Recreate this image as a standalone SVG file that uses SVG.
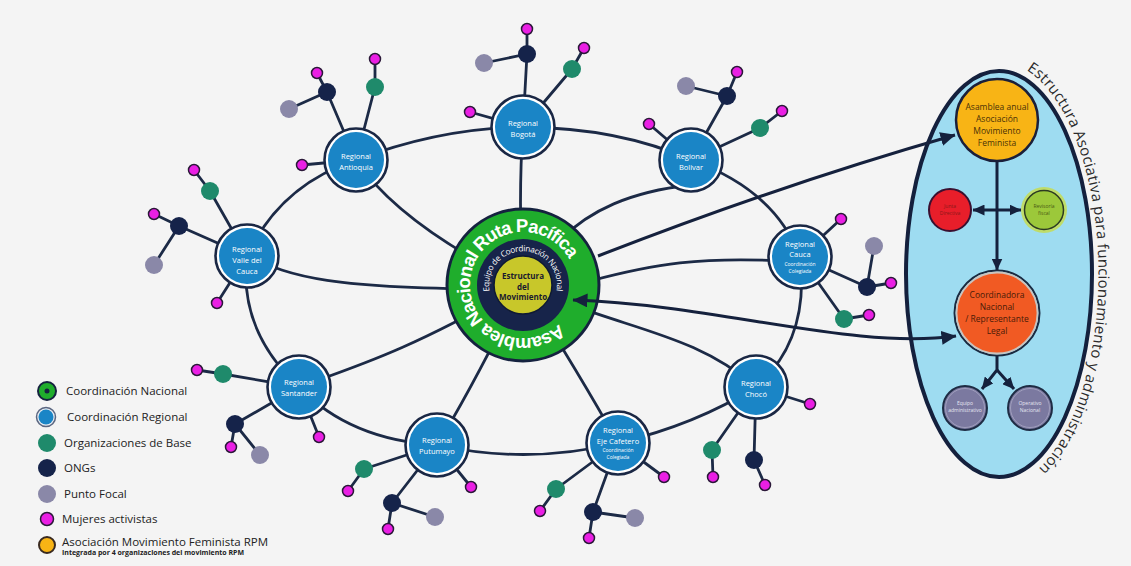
<svg xmlns="http://www.w3.org/2000/svg" xmlns:xlink="http://www.w3.org/1999/xlink" width="1131" height="566" viewBox="0 0 1131 566">
<defs>
<style>
.ln{fill:none;stroke:#1c2a46;stroke-width:2.8;stroke-linecap:round}
.sl{stroke:#1c2a46;stroke-width:2.8;stroke-linecap:round}
.ar{fill:none;stroke:#15213d;stroke-width:3}
.ro{fill:#ffffff;stroke:#1a2744;stroke-width:2.6}
.ri{fill:#1a85c6}
.org{fill:#1f8a6b}
.ong{fill:#15234a}
.pf{fill:#8a88a8}
.mag{fill:#ea1fe4;stroke:#2a1838;stroke-width:1.5}
.rt{font-family:"Open Sans","DejaVu Sans",sans-serif;font-size:7.5px;fill:#ffffff;text-anchor:middle}
.rs{font-size:5px}
.lg{font-family:"Open Sans","DejaVu Sans",sans-serif;font-size:11.5px;fill:#222222}
.nt{font-family:"Open Sans","DejaVu Sans",sans-serif;font-size:8.5px;text-anchor:middle}
.tt{font-family:"Open Sans","DejaVu Sans",sans-serif;font-size:5px;text-anchor:middle}
</style>
<marker id="ah" viewBox="0 0 12 11" refX="11.5" refY="5.5" markerWidth="12" markerHeight="11" markerUnits="userSpaceOnUse" orient="auto-start-reverse"><path d="M0,0 L12,5.5 L0,11 z" fill="#15213d"/></marker>
<marker id="ahb" viewBox="0 0 15 14" refX="14.5" refY="7" markerWidth="15" markerHeight="14" markerUnits="userSpaceOnUse" orient="auto-start-reverse"><path d="M0,0 L15,7 L0,14 z" fill="#15213d"/></marker>
<path id="ringPath" d="M560.5,322.5 A53,53 0 1 1 570.2,260.9"/>
<path id="innerPath" d="M489.7,292.1 A34,34 0 1 1 556.3,292.1"/>
<path id="ellPath" d="M999,62 A99.5,212 0 0 1 999,486"/>
</defs>
<rect x="0" y="0" width="1131" height="566" fill="#f4f4f4"/>

<g id="estructura-asociativa">
<ellipse cx="999" cy="274" rx="93" ry="203" fill="#9edcf1" stroke="#14203d" stroke-width="4"/>
<text font-family="'Open Sans','DejaVu Sans',sans-serif" font-size="15" fill="#2b2b2b"><textPath xlink:href="#ellPath" href="#ellPath" startOffset="29" textLength="432" lengthAdjust="spacing">Estructura Asociativa para funcionamiento y administración</textPath></text>
</g>

<g id="connectors">
<path class="ln" d="M247,256 Q280,185 356,160"/>
<path class="ln" d="M356,160 Q440,128 523,127"/>
<path class="ln" d="M523,127 Q620,128 691,160"/>
<path class="ln" d="M691,160 Q775,190 800,257"/>
<path class="ln" d="M800,257 Q810,340 756,387"/>
<path class="ln" d="M756,387 Q695,425 618,443"/>
<path class="ln" d="M618,443 Q528,465 437,445"/>
<path class="ln" d="M437,445 Q350,440 299,387"/>
<path class="ln" d="M299,387 Q238,330 247,256"/>
<path class="ln" d="M523,127 Q518,200 523,285"/>
<path class="ln" d="M356,160 Q400,225 523,285"/>
<path class="ln" d="M247,256 C290,275 320,290 523,289"/>
<path class="ln" d="M299,387 C360,365 410,350 523,285"/>
<path class="ln" d="M437,445 Q470,392 523,285"/>
<path class="ln" d="M523,285 Q580,375 618,443"/>
<path class="ln" d="M523,285 C620,330 690,330 756,387"/>
<path class="ln" d="M590,281 C650,265 700,255 800,262"/>
<path class="ln" d="M560,240 C590,210 630,192 690,185"/>
<line class="sl" x1="356" y1="160" x2="327" y2="92"/><line class="sl" x1="327" y1="92" x2="289" y2="109"/><line class="sl" x1="327" y1="92" x2="317" y2="73"/>
<line class="sl" x1="356" y1="160" x2="375" y2="87"/><line class="sl" x1="375" y1="87" x2="375" y2="59"/>
<line class="sl" x1="356" y1="160" x2="302" y2="165"/>
<line class="sl" x1="523" y1="127" x2="527" y2="54"/><line class="sl" x1="527" y1="54" x2="527" y2="29"/><line class="sl" x1="527" y1="54" x2="484" y2="63"/>
<line class="sl" x1="523" y1="127" x2="572" y2="69"/><line class="sl" x1="572" y1="69" x2="584" y2="48"/>
<line class="sl" x1="523" y1="127" x2="470" y2="112"/>
<line class="sl" x1="691" y1="160" x2="727" y2="96"/><line class="sl" x1="727" y1="96" x2="686" y2="86"/><line class="sl" x1="727" y1="96" x2="737" y2="72"/>
<line class="sl" x1="691" y1="160" x2="760" y2="128"/><line class="sl" x1="760" y1="128" x2="782" y2="111"/>
<line class="sl" x1="691" y1="160" x2="649" y2="124"/>
<line class="sl" x1="247" y1="256" x2="179" y2="226"/><line class="sl" x1="179" y1="226" x2="154" y2="214"/><line class="sl" x1="179" y1="226" x2="154" y2="265"/>
<line class="sl" x1="247" y1="256" x2="210" y2="191"/><line class="sl" x1="210" y1="191" x2="194" y2="170"/>
<line class="sl" x1="247" y1="256" x2="217" y2="303"/>
<line class="sl" x1="800" y1="257" x2="841" y2="219"/>
<line class="sl" x1="800" y1="257" x2="867" y2="287"/><line class="sl" x1="867" y1="287" x2="874" y2="246"/><line class="sl" x1="867" y1="287" x2="891" y2="283"/>
<line class="sl" x1="800" y1="257" x2="844" y2="319"/><line class="sl" x1="844" y1="319" x2="869" y2="315"/>
<line class="sl" x1="756" y1="387" x2="810" y2="404"/>
<line class="sl" x1="756" y1="387" x2="712" y2="450"/><line class="sl" x1="712" y1="450" x2="713" y2="477"/>
<line class="sl" x1="756" y1="387" x2="754" y2="460"/><line class="sl" x1="754" y1="460" x2="765" y2="485"/>
<line class="sl" x1="299" y1="387" x2="223" y2="374"/><line class="sl" x1="223" y1="374" x2="197" y2="370"/>
<line class="sl" x1="299" y1="387" x2="235" y2="424"/><line class="sl" x1="235" y1="424" x2="231" y2="447"/><line class="sl" x1="235" y1="424" x2="260" y2="455"/>
<line class="sl" x1="299" y1="387" x2="319" y2="437"/>
<line class="sl" x1="437" y1="445" x2="364" y2="469"/><line class="sl" x1="364" y1="469" x2="348" y2="491"/>
<line class="sl" x1="437" y1="445" x2="392" y2="503"/><line class="sl" x1="392" y1="503" x2="388" y2="529"/><line class="sl" x1="392" y1="503" x2="435" y2="517"/>
<line class="sl" x1="437" y1="445" x2="471" y2="487"/>
<line class="sl" x1="618" y1="443" x2="556" y2="489"/><line class="sl" x1="556" y1="489" x2="540" y2="511"/>
<line class="sl" x1="618" y1="443" x2="593" y2="512"/><line class="sl" x1="593" y1="512" x2="589" y2="538"/><line class="sl" x1="593" y1="512" x2="635" y2="518"/>
<line class="sl" x1="618" y1="443" x2="664" y2="477"/>
<path class="ar" d="M997,162 L997,270" marker-end="url(#ah)"/>
<path class="ar" d="M973,210 L1021,210" marker-start="url(#ah)" marker-end="url(#ah)"/>
<path class="ar" d="M997,355 L997,370 L982,389" marker-end="url(#ah)"/>
<path class="ar" d="M997,370 L1014,389" marker-end="url(#ah)"/>
</g>

<g id="coordinacion-nacional">
<circle cx="523" cy="285" r="76" fill="#1fad2c" stroke="#15223f" stroke-width="3"/>
<circle cx="523" cy="285" r="46" fill="#17244a"/>
<circle cx="523" cy="285" r="29" fill="#c8c72a" stroke="#0f1a33" stroke-width="1.5"/>
<text font-family="'Liberation Sans',Arial,sans-serif" font-weight="700" font-size="18.5" fill="#ffffff"><textPath xlink:href="#ringPath" href="#ringPath" startOffset="2" textLength="262" lengthAdjust="spacing">Asamblea Nacional Ruta Pacífica</textPath></text>
<text font-family="'Open Sans','DejaVu Sans',sans-serif" font-size="8.3" fill="#ffffff"><textPath xlink:href="#innerPath" href="#innerPath" startOffset="1" textLength="118" lengthAdjust="spacing">Equipo de Coordinación Nacional</textPath></text>
<text font-family="'Open Sans','DejaVu Sans',sans-serif" font-size="8" font-weight="700" fill="#1a1a2e" text-anchor="middle"><tspan x="523" y="279">Estructura</tspan><tspan x="523" y="289.5">del</tspan><tspan x="523" y="300">Movimiento</tspan></text>
</g>

<g id="regional-antioquia"><circle cx="356" cy="160" r="31.5" class="ro"/><circle cx="356" cy="160" r="28" class="ri"/><text class="rt"><tspan x="356" y="159">Regional</tspan><tspan x="356" y="170">Antioquia</tspan></text></g>
<g id="regional-bogota"><circle cx="523" cy="127" r="31.5" class="ro"/><circle cx="523" cy="127" r="28" class="ri"/><text class="rt"><tspan x="523" y="126">Regional</tspan><tspan x="523" y="137">Bogotá</tspan></text></g>
<g id="regional-bolivar"><circle cx="691" cy="160" r="31.5" class="ro"/><circle cx="691" cy="160" r="28" class="ri"/><text class="rt"><tspan x="691" y="159">Regional</tspan><tspan x="691" y="170">Bolivar</tspan></text></g>
<g id="regional-valle"><circle cx="247" cy="256" r="31.5" class="ro"/><circle cx="247" cy="256" r="28" class="ri"/><text class="rt"><tspan x="247" y="252">Regional</tspan><tspan x="247" y="263">Valle del</tspan><tspan x="247" y="274">Cauca</tspan></text></g>
<g id="regional-cauca"><circle cx="800" cy="257" r="31.5" class="ro"/><circle cx="800" cy="257" r="28" class="ri"/><text class="rt"><tspan x="800" y="247">Regional</tspan><tspan x="800" y="257">Cauca</tspan><tspan class="rs" x="800" y="266">Coordinación</tspan><tspan class="rs" x="800" y="273">Colegiada</tspan></text></g>
<g id="regional-choco"><circle cx="756" cy="387" r="31.5" class="ro"/><circle cx="756" cy="387" r="28" class="ri"/><text class="rt"><tspan x="756" y="386">Regional</tspan><tspan x="756" y="397">Chocó</tspan></text></g>
<g id="regional-santander"><circle cx="299" cy="387" r="31.5" class="ro"/><circle cx="299" cy="387" r="28" class="ri"/><text class="rt"><tspan x="299" y="385">Regional</tspan><tspan x="299" y="396">Santander</tspan></text></g>
<g id="regional-putumayo"><circle cx="437" cy="445" r="31.5" class="ro"/><circle cx="437" cy="445" r="28" class="ri"/><text class="rt"><tspan x="437" y="443">Regional</tspan><tspan x="437" y="454">Putumayo</tspan></text></g>
<g id="regional-eje-cafetero"><circle cx="618" cy="443" r="31.5" class="ro"/><circle cx="618" cy="443" r="28" class="ri"/><text class="rt"><tspan x="618" y="433">Regional</tspan><tspan x="618" y="444">Eje Cafetero</tspan><tspan class="rs" x="618" y="452">Coordinación</tspan><tspan class="rs" x="618" y="459">Colegiada</tspan></text></g>

<g id="antioquia-ong"><circle cx="327" cy="92" r="9" class="ong"/></g>
<g id="antioquia-pf"><circle cx="289" cy="109" r="9" class="pf"/></g>
<g id="antioquia-m1"><circle cx="317" cy="73" r="5.5" class="mag"/></g>
<g id="antioquia-org"><circle cx="375" cy="87" r="9" class="org"/></g>
<g id="antioquia-m2"><circle cx="375" cy="59" r="5.5" class="mag"/></g>
<g id="antioquia-m3"><circle cx="302" cy="165" r="5.5" class="mag"/></g>
<g id="bogota-ong"><circle cx="527" cy="54" r="9" class="ong"/></g>
<g id="bogota-m1"><circle cx="527" cy="29" r="5.5" class="mag"/></g>
<g id="bogota-pf"><circle cx="484" cy="63" r="9" class="pf"/></g>
<g id="bogota-org"><circle cx="572" cy="69" r="9" class="org"/></g>
<g id="bogota-m2"><circle cx="584" cy="48" r="5.5" class="mag"/></g>
<g id="bogota-m3"><circle cx="470" cy="112" r="5.5" class="mag"/></g>
<g id="bolivar-ong"><circle cx="727" cy="96" r="9" class="ong"/></g>
<g id="bolivar-pf"><circle cx="686" cy="86" r="9" class="pf"/></g>
<g id="bolivar-m1"><circle cx="737" cy="72" r="5.5" class="mag"/></g>
<g id="bolivar-org"><circle cx="760" cy="128" r="9" class="org"/></g>
<g id="bolivar-m2"><circle cx="782" cy="111" r="5.5" class="mag"/></g>
<g id="bolivar-m3"><circle cx="649" cy="124" r="5.5" class="mag"/></g>
<g id="valle-ong"><circle cx="179" cy="226" r="9" class="ong"/></g>
<g id="valle-m1"><circle cx="154" cy="214" r="5.5" class="mag"/></g>
<g id="valle-pf"><circle cx="154" cy="265" r="9" class="pf"/></g>
<g id="valle-org"><circle cx="210" cy="191" r="9" class="org"/></g>
<g id="valle-m2"><circle cx="194" cy="170" r="5.5" class="mag"/></g>
<g id="valle-m3"><circle cx="217" cy="303" r="5.5" class="mag"/></g>
<g id="cauca-m1"><circle cx="841" cy="219" r="5.5" class="mag"/></g>
<g id="cauca-ong"><circle cx="867" cy="287" r="9" class="ong"/></g>
<g id="cauca-pf"><circle cx="874" cy="246" r="9" class="pf"/></g>
<g id="cauca-m2"><circle cx="891" cy="283" r="5.5" class="mag"/></g>
<g id="cauca-org"><circle cx="844" cy="319" r="9" class="org"/></g>
<g id="cauca-m3"><circle cx="869" cy="315" r="5.5" class="mag"/></g>
<g id="choco-m1"><circle cx="810" cy="404" r="5.5" class="mag"/></g>
<g id="choco-org"><circle cx="712" cy="450" r="9" class="org"/></g>
<g id="choco-m2"><circle cx="713" cy="477" r="5.5" class="mag"/></g>
<g id="choco-ong"><circle cx="754" cy="460" r="9" class="ong"/></g>
<g id="choco-m3"><circle cx="765" cy="485" r="5.5" class="mag"/></g>
<g id="santander-org"><circle cx="223" cy="374" r="9" class="org"/></g>
<g id="santander-m1"><circle cx="197" cy="370" r="5.5" class="mag"/></g>
<g id="santander-ong"><circle cx="235" cy="424" r="9" class="ong"/></g>
<g id="santander-m2"><circle cx="231" cy="447" r="5.5" class="mag"/></g>
<g id="santander-pf"><circle cx="260" cy="455" r="9" class="pf"/></g>
<g id="santander-m3"><circle cx="319" cy="437" r="5.5" class="mag"/></g>
<g id="putumayo-org"><circle cx="364" cy="469" r="9" class="org"/></g>
<g id="putumayo-m1"><circle cx="348" cy="491" r="5.5" class="mag"/></g>
<g id="putumayo-ong"><circle cx="392" cy="503" r="9" class="ong"/></g>
<g id="putumayo-m2"><circle cx="388" cy="529" r="5.5" class="mag"/></g>
<g id="putumayo-pf"><circle cx="435" cy="517" r="9" class="pf"/></g>
<g id="putumayo-m3"><circle cx="471" cy="487" r="5.5" class="mag"/></g>
<g id="eje-org"><circle cx="556" cy="489" r="9" class="org"/></g>
<g id="eje-m1"><circle cx="540" cy="511" r="5.5" class="mag"/></g>
<g id="eje-ong"><circle cx="593" cy="512" r="9" class="ong"/></g>
<g id="eje-m2"><circle cx="589" cy="538" r="5.5" class="mag"/></g>
<g id="eje-pf"><circle cx="635" cy="518" r="9" class="pf"/></g>
<g id="eje-m3"><circle cx="664" cy="477" r="5.5" class="mag"/></g>

<g id="asamblea-anual"><circle cx="997" cy="120" r="41" fill="#f8b415" stroke="#1a1f3a" stroke-width="2.5"/><text class="nt" fill="#4a3208"><tspan x="997" y="110">Asamblea anual</tspan><tspan x="997" y="122">Asociación</tspan><tspan x="997" y="134">Movimiento</tspan><tspan x="997" y="146">Feminista</tspan></text></g>
<g id="junta-directiva"><circle cx="950" cy="210" r="21" fill="#e81e2a" stroke="#3a1030" stroke-width="2"/><text class="tt" fill="#8a1818"><tspan x="950" y="208">Junta</tspan><tspan x="950" y="215">Directiva</tspan></text></g>
<g id="revisoria-fiscal"><circle cx="1044" cy="210" r="23" fill="#bfdc6a"/><circle cx="1044" cy="210" r="19.5" fill="#9cc83a" stroke="#2c3a22" stroke-width="1.5"/><text class="tt" fill="#4a5a14"><tspan x="1044" y="208">Revisoría</tspan><tspan x="1044" y="215">fiscal</tspan></text></g>
<g id="coordinadora-nacional"><circle cx="997" cy="313" r="42.5" fill="none" stroke="#1a2a40" stroke-width="2"/><circle cx="997" cy="313" r="40.5" fill="#f15a23" stroke="#c9c3bf" stroke-width="1.8"/><text class="nt" fill="#4a1a08"><tspan x="997" y="298">Coordinadora</tspan><tspan x="997" y="310">Nacional</tspan><tspan x="997" y="322">/ Representante</tspan><tspan x="997" y="334">Legal</tspan></text></g>
<g id="equipo-administrativo"><circle cx="965" cy="408" r="22" fill="#7b79a0" stroke="#1e2c44" stroke-width="2"/><circle cx="965" cy="408" r="19.5" fill="none" stroke="#a9a8c4" stroke-width="0.8"/><text class="tt" fill="#e6e6f2"><tspan x="965" y="405">Equipo</tspan><tspan x="965" y="412">administrativo</tspan></text></g>
<g id="operativo-nacional"><circle cx="1030" cy="408" r="22" fill="#7b79a0" stroke="#1e2c44" stroke-width="2"/><circle cx="1030" cy="408" r="19.5" fill="none" stroke="#a9a8c4" stroke-width="0.8"/><text class="tt" fill="#e6e6f2"><tspan x="1030" y="405">Operativo</tspan><tspan x="1030" y="412">Nacional</tspan></text></g>

<g id="connectors-arrows">
<path class="ar" d="M598,256 Q780,185 955,135" marker-end="url(#ahb)"/>
<path class="ar" d="M573,300 C720,305 850,350 956,336" marker-start="url(#ahb)" marker-end="url(#ahb)"/>
</g>

<g id="legend">
<circle cx="47" cy="391" r="9" fill="#1fad2c" stroke="#15223f" stroke-width="2"/><circle cx="47" cy="391" r="2.5" fill="#15223f"/>
<text class="lg" x="66" y="395">Coordinación Nacional</text>
<circle cx="46" cy="417" r="9.5" fill="#e8ecf2" stroke="#5a6680" stroke-width="1.5"/><circle cx="46" cy="417" r="7.5" fill="#1a85c6"/>
<text class="lg" x="67" y="421">Coordinación Regional</text>
<circle cx="47" cy="443" r="9" class="org"/>
<text class="lg" x="64" y="447">Organizaciones de Base</text>
<circle cx="47" cy="468" r="9" class="ong"/>
<text class="lg" x="64" y="472">ONGs</text>
<circle cx="47" cy="494" r="9" class="pf"/>
<text class="lg" x="64" y="498">Punto Focal</text>
<circle cx="47" cy="519" r="6.5" class="mag"/>
<text class="lg" x="62" y="523">Mujeres activistas</text>
<circle cx="47" cy="545" r="8" fill="#f8b415" stroke="#3a2a20" stroke-width="2"/>
<text class="lg" x="62" y="546">Asociación Movimiento Feminista RPM</text>
<text x="62" y="555" font-family="'Open Sans','DejaVu Sans',sans-serif" font-size="7" font-weight="700" fill="#222222">Integrada por 4 organizaciones del movimiento RPM</text>
</g>
</svg>
